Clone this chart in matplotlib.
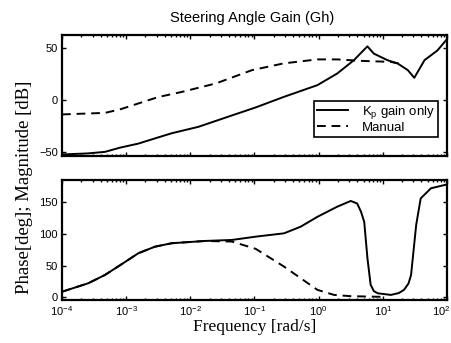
#!/usr/bin/env python3
# Bode plot of the steering angle gain, Kp only vs manual
import numpy as np
import matplotlib.pyplot as plt
import matplotlib.transforms as mtransforms
from matplotlib.ticker import LogLocator, NullFormatter

# log10 of frequency [rad/s] and values
kp_mag_logw = [-4, -3.6, -3.33, -3.1, -2.81, -2.5, -2.29, -1.875, -1.41, -0.98,
               -0.55, -0.02, 0.29, 0.55, 0.68, 0.76, 0.86, 1.07, 1.23, 1.39,
               1.49, 1.65, 1.85, 2.0]
kp_mag = [-52.5, -51.5, -50, -46, -42, -36, -32, -25.8, -16, -7,
          3, 14.5, 25.8, 38.7, 47, 52, 45, 38.7, 35.5, 29,
          21.6, 38.7, 48, 59]

man_mag_logw = [-4, -3.33, -3.1, -2.81, -2.5, -2.13, -1.6, -1.04, -0.55, -0.02,
                0.29, 0.66, 1.125, 1.28]
man_mag = [-13.8, -12.3, -9, -3.2, 3, 8, 16.2, 29, 35.5, 39.4,
           39.4, 38, 37, 35]

kp_ph_logw = [-4, -3.59, -3.33, -3.07, -2.81, -2.55, -2.29, -1.77, -1.35, -0.98,
              -0.54, -0.28, -0.02, 0.29, 0.5, 0.6, 0.66, 0.71, 0.76, 0.81,
              0.86, 0.92, 1.125, 1.25, 1.33, 1.4, 1.44, 1.48, 1.52, 1.59,
              1.75, 2.0]
kp_ph = [9, 22.4, 35.5, 52.4, 69.7, 80, 85.4, 89, 90.6, 95.8,
         101, 111.5, 127, 143, 152, 148, 135, 119, 62, 20,
         10, 6.6, 4, 7, 12, 22, 35.5, 75, 114.5, 156,
         172, 178]

man_ph_logw = [-4, -3.59, -3.33, -3.07, -2.81, -2.55, -2.29, -1.77, -1.35, -0.98,
               -0.54, -0.28, -0.02, 0.24, 0.5, 0.97]
man_ph = [9, 22.4, 35.5, 52.4, 69.7, 80, 85.4, 89, 88, 76.5,
          48.6, 30.3, 12, 4, 2, 1]

decades = [1e-4, 1e-3, 1e-2, 1e-1, 1e0, 1e1, 1e2]
dec_labels = [r'$10^{-4}$', r'$10^{-3}$', r'$10^{-2}$', r'$10^{-1}$',
              r'$10^{0}$', r'$10^{1}$', r'$10^{2}$']

plt.rcParams['font.family'] = ['Liberation Sans', 'DejaVu Sans']
plt.rcParams['mathtext.fontset'] = 'custom'
plt.rcParams['mathtext.rm'] = 'Liberation Sans'
plt.rcParams['mathtext.it'] = 'Liberation Sans'

fig = plt.figure(figsize=(4.52, 3.43), dpi=100)
axTop = fig.add_axes([62/452, 1-156/343, 385/452, 121/343])
axBot = fig.add_axes([62/452, 1-300/343, 385/452, 120/343])

dash = (0, (4.5, 3))
axTop.plot(10**np.array(kp_mag_logw), kp_mag, 'k-', lw=1.4, label=r'K$_\mathrm{p}$ gain only')
axTop.plot(10**np.array(man_mag_logw), man_mag, 'k', ls=dash, lw=1.4, label='Manual')
axBot.plot(10**np.array(kp_ph_logw), kp_ph, 'k-', lw=1.4)
axBot.plot(10**np.array(man_ph_logw), man_ph, 'k', ls=dash, lw=1.4)

for ax in (axTop, axBot):
    ax.set_xscale('log')
    ax.set_xlim(1e-4, 1e2)
    ax.set_xticks(decades)
    ax.xaxis.set_minor_locator(LogLocator(base=10, subs=np.arange(2, 10), numticks=20))
    ax.xaxis.set_minor_formatter(NullFormatter())
    ax.tick_params(which='both', direction='in', top=True, right=True,
                   labelsize=8, width=1.0, pad=3)
    ax.tick_params(which='major', length=3)
    ax.tick_params(which='minor', length=1.5)
    for s in ax.spines.values():
        s.set_linewidth(1.6)

axTop.set_ylim(-54, 63)
axTop.set_yticks([-50, 0, 50])
axTop.set_xticklabels([])
axBot.set_ylim(-4, 185)
axBot.set_yticks([0, 50, 100, 150])
axBot.set_xticklabels(dec_labels)

# last decade label sits at the very edge; pull it in a little
shift = mtransforms.ScaledTranslation(-6/100, 0, fig.dpi_scale_trans)
lastLab = axBot.get_xticklabels()[-1]
lastLab.set_transform(lastLab.get_transform() + shift)

axTop.legend(loc='lower right', fontsize=9.5, frameon=True, fancybox=False,
             edgecolor='k', framealpha=1, handlelength=2.4, borderpad=0.25,
             labelspacing=0.05, handletextpad=1.0, borderaxespad=0,
             bbox_to_anchor=(0.977, 0.157))
axTop.get_legend().get_frame().set_linewidth(1.2)

fig.text(252/452, 1-18/343, 'Steering Angle Gain (Gh)', ha='center', va='center', fontsize=10.5)
fig.text(255/452, 1-327/343, 'Frequency [rad/s]', ha='center', va='center',
         fontsize=12.5, family='Liberation Serif')
fig.text(25/452, 1-187/343, 'Phase[deg]; Magnitude [dB]', ha='center', va='center',
         rotation=90, fontsize=13.5, family='Liberation Serif')

fig.savefig('out.png', dpi=100)
